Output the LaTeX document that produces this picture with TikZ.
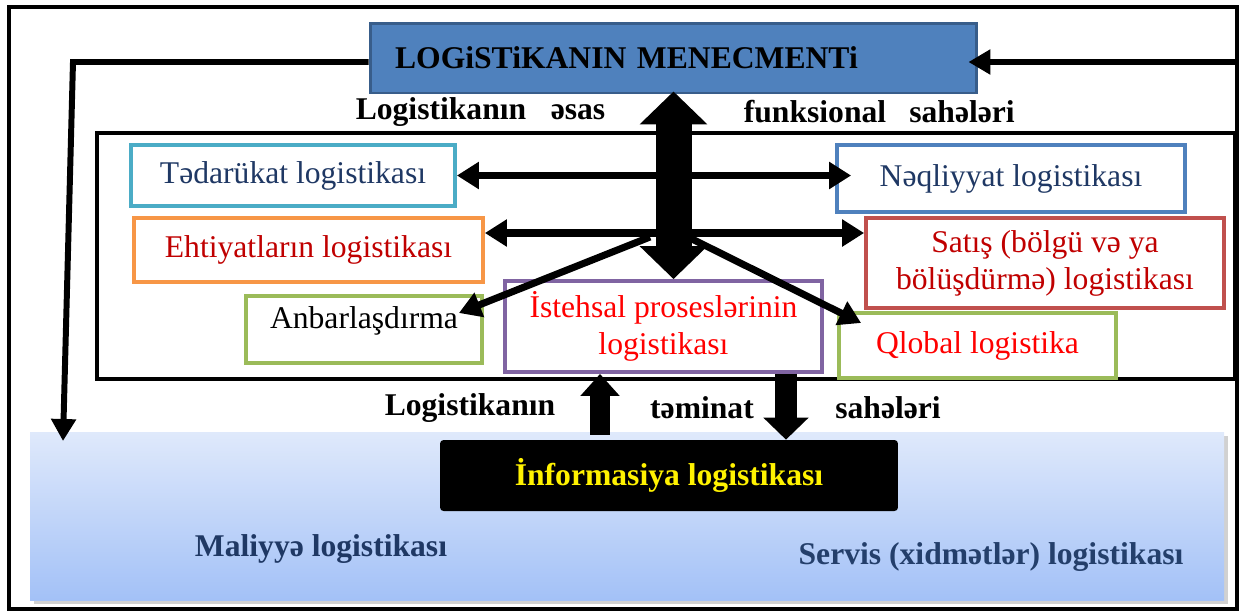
\documentclass[tikz,border=0pt]{standalone}
\usepackage{fontspec}
\setmainfont{Liberation Serif}
\usetikzlibrary{arrows.meta}
\definecolor{mgblue}{HTML}{4F81BD}
\definecolor{mgdark}{HTML}{385D8A}
\definecolor{cyanb}{HTML}{4BACC6}
\definecolor{orangeb}{HTML}{F79646}
\definecolor{redb}{HTML}{C0504D}
\definecolor{greenb}{HTML}{9BBB59}
\definecolor{purpleb}{HTML}{8064A2}
\definecolor{navytext}{HTML}{1F3864}
\definecolor{darkred}{HTML}{C00000}
\definecolor{areatop}{HTML}{DFE9FB}
\definecolor{areabot}{HTML}{A3C1F7}
\definecolor{servnavy}{HTML}{243F6B}
\begin{document}
\begin{tikzpicture}[x=0.02cm,y=-0.02cm,
  big/.style={font=\fontsize{18}{21}\selectfont},
  box/.style={big,draw,line width=2.2pt,fill=white,align=center,inner sep=0pt},
  lbl/.style={big,font=\fontsize{18}{21}\selectfont\bfseries},
  fb/.style={line width=3.4pt,line join=miter,-{Triangle[length=0.44cm,width=0.48cm]}},
  link/.style={line width=4.5pt,{Triangle[length=0.44cm,width=0.52cm]}-{Triangle[length=0.44cm,width=0.52cm]}},
  branch/.style={line width=4pt,-{Triangle[length=0.44cm,width=0.5cm]}}]
\useasboundingbox (0,0) rectangle (1243,613);
\draw[line width=1.8pt] (9,7) rectangle (1237,609);
\fill[black!18] (34,436) rectangle (1228,604);
\shade[top color=areatop,bottom color=areabot] (30,432) rectangle (1224,600);
\draw[line width=2.3pt] (97,133) rectangle (1235,379);

\node[big,draw=mgdark,fill=mgblue,line width=1.7pt,font=\fontsize{18}{21}\selectfont\bfseries,
  text width=11.14cm,inner xsep=0.5cm,minimum height=1.4cm,align=left] (mgmt) at (673.5,58) {LOGiSTiKANIN MENECMENTi};
\node[lbl] (fa1) at (441,112) {Logistikanın};
\node[lbl] (fa2) at (578,112) {əsas};
\node[lbl] (fa3) at (815,112) {funksional};
\node[lbl] (fa4) at (962,112) {sahələri};

\node[box,draw=cyanb,text=navytext,minimum width=6.48cm,minimum height=1.22cm] (tad) at (293,175.5) {Tədarükat logistikası};
\node[box,draw=mgblue,text=navytext,minimum width=6.96cm,minimum height=1.34cm] (naq) at (1011,178.5) {Nəqliyyat logistikası};
\node[box,draw=orangeb,text=darkred,minimum width=6.98cm,minimum height=1.28cm] (eht) at (308.5,250) {Ehtiyatların logistikası};
\node[box,draw=redb,text=darkred,minimum width=7.16cm,minimum height=1.8cm] (sat) at (1045,263) {Satış (bölgü və ya\\bölüşdürmə) logistikası};
\node[box,draw=greenb,text=black,minimum width=4.72cm,minimum height=1.34cm,text depth=0.48cm] (anb) at (364,329.5) {Anbarlaşdırma};
\node[box,draw=purpleb,text=red,minimum width=6.34cm,minimum height=1.82cm] (prod) at (663.5,326.5) {İstehsal proseslərinin\\logistikası};
\node[box,draw=greenb,text=red,minimum width=5.54cm,minimum height=1.3cm] (glo) at (977.5,345.5) {Qlobal logistika};

\node[lbl] (ta1) at (470,408) {Logistikanın};
\node[lbl] (ta2) at (702,408) {təminat};
\node[lbl] (ta3) at (888,408) {sahələri};
\node[big,fill=black,text=yellow,font=\fontsize{18}{21}\selectfont\bfseries,rounded corners=2pt,
  minimum width=9.16cm,minimum height=1.42cm] (info) at (669,475.5) {İnformasiya logistikası};
\node[lbl,text=navytext] (mal) at (321,549) {Maliyyə logistikası};
\node[lbl,text=servnavy] (serv) at (991,557) {Servis (xidmətlər) logistikası};

\coordinate (lc) at (73,62);
\coordinate (lt) at (63,441);
\coordinate (rs) at (1237,62);
\coordinate (hubl) at (650,237);
\coordinate (hubr) at (688,237);
\draw[fb] (mgmt.west |- lc) -- (lc) -- (lt);
\draw[fb,shorten >=-0.2cm] (rs) -- (mgmt.east |- rs);

\draw[link,shorten >=-0.32cm] (tad.east) -- (naq.west |- tad.east);
\draw[link] ([yshift=0.34cm]eht.east) -- ([yshift=0.34cm]eht.east -| sat.west);
\draw[line width=0.72cm,{Triangle[length=0.66cm,width=1.32cm]}-{Triangle[length=0.66cm,width=1.32cm]}]
  ([yshift=0.06cm]mgmt.south) -- (mgmt.south |- prod.north);
\draw[branch] (hubl) -- ([shift={(-25,-16.5)}]anb.east);
\draw[branch] (hubr) -- ([shift={(24,-22.5)}]glo.west);

\draw[line width=0.4cm,-{Triangle[length=0.44cm,width=0.76cm]}]
  ([xshift=-1.38cm,yshift=0.1cm]info.north) -- ([xshift=-1.38cm]info.north |- prod.south);
\draw[line width=0.44cm,-{Triangle[length=0.44cm,width=0.88cm]}]
  ([xshift=2.34cm]info.north |- prod.south) -- ([xshift=2.34cm]info.north);
\end{tikzpicture}
\end{document}
